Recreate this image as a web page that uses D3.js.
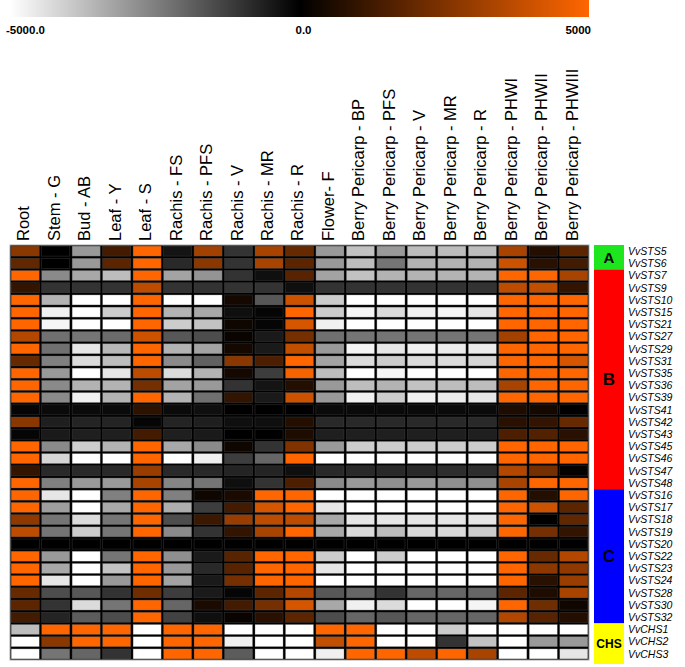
<!DOCTYPE html>
<html><head><meta charset="utf-8">
<script src="https://cdn.jsdelivr.net/npm/d3@7"></script>
<style>body{margin:0;background:#fff}</style>
</head><body><svg id="chart" width="685" height="667"></svg>
<script>
const tissues = ["Root","Stem - G","Bud - AB","Leaf - Y","Leaf - S","Rachis - FS","Rachis - PFS","Rachis - V","Rachis - MR","Rachis - R","Flower- F","Berry Pericarp - BP","Berry Pericarp - PFS","Berry Pericarp - V","Berry Pericarp - MR","Berry Pericarp - R","Berry Pericarp - PHWI","Berry Pericarp - PHWII","Berry Pericarp - PHWIII"];
const genes = ["VvSTS5","VvSTS6","VvSTS7","VvSTS9","VvSTS10","VvSTS15","VvSTS21","VvSTS27","VvSTS29","VvSTS31","VvSTS35","VvSTS36","VvSTS39","VvSTS41","VvSTS42","VvSTS43","VvSTS45","VvSTS46","VvSTS47","VvSTS48","VvSTS16","VvSTS17","VvSTS18","VvSTS19","VvSTS20","VvSTS22","VvSTS23","VvSTS24","VvSTS28","VvSTS30","VvSTS32","VvCHS1","VvCHS2","VvCHS3"];
const groupNames = ["A","B","C","CHS"];
const groupSizes = [2,18,11,3];
const legendTicks = [-5000,0,5000];
const legendTickLabels = ["-5000.0","0.0","5000"];
const values = [
[2700,0,-3000,1300,5000,-400,3200,-1000,3300,2000,-3000,-3800,-3000,-3700,-3700,-3700,3300,700,1800],
[1900,0,-3000,1800,5000,-800,2700,-1000,3300,1800,-3000,-3700,-2300,-3500,-3500,-3500,4000,800,1300],
[5000,-2700,-3300,-3700,5000,-3200,-2900,-1000,-300,1700,-3200,-3800,-3500,-3500,-3500,-3500,5000,5000,3300],
[1000,-1000,-1000,-1000,3700,-1000,-1000,-1000,-1000,-300,-1000,-1000,-1000,-1000,-1000,-1000,3700,3800,1000],
[5000,-3500,-5000,-5000,5000,-5000,-5000,400,-1700,4000,-4000,-5000,-5000,-5000,-5000,-5000,5000,5000,5000],
[5000,-4700,-5000,-4000,5000,-3500,-3300,-300,-100,5000,-4000,-4800,-4300,-4700,-4800,-4500,5000,5000,5000],
[5000,-4800,-5000,-5000,5000,-4000,-3800,300,-100,4200,-4700,-5000,-5000,-5000,-5000,-5000,5000,5000,5000],
[3500,-2200,-2300,-2100,4000,-1700,-1500,200,-500,2300,-2200,-2300,-2300,-2300,-2300,-2300,3200,5000,5000],
[5000,-2200,-4500,-3600,5000,-3500,-3200,400,-500,3800,-3000,-4800,-4500,-4700,-4600,-4600,5000,5000,5000],
[2000,-2500,-4300,-3700,5000,-2700,-1900,2700,1500,5000,-3200,-4300,-4000,-4300,-4300,-4200,5000,5000,4200],
[5000,-3000,-5000,-4500,3700,-4300,-3500,400,-1200,4800,-3700,-5000,-4800,-5000,-5000,-5000,5000,5000,5000],
[5000,-2700,-3500,-3500,2300,-3200,-3000,-1000,-400,700,-3000,-3700,-3500,-3800,-3700,-3700,3300,5000,5000],
[5000,-2700,-4700,-3500,5000,-3500,-2200,1000,-500,4000,-3000,-4700,-4000,-4700,-4600,-4500,5000,5000,5000],
[-100,-200,-200,-200,900,-200,-300,0,0,0,-200,-200,-200,-200,-200,-200,600,400,0],
[2700,-600,-700,-700,-100,-700,-600,-300,-300,700,-800,-800,-800,-800,-800,-800,800,1000,2000],
[-100,-500,-600,-600,1300,-600,-500,0,0,600,-600,-600,-600,-600,-600,-600,1500,1600,800],
[5000,-2700,-4000,-3500,5000,-3300,-2700,300,-1000,2500,-3000,-4000,-4000,-4000,-4000,-4000,5000,5000,5000],
[5000,-4200,-5000,-5000,5000,-5000,-4700,-1200,-2000,5000,-5000,-5000,-5000,-5000,-5000,-5000,5000,5000,5000],
[1000,-800,-800,-800,3000,-800,-800,-700,-700,-300,-800,-800,-800,-800,-900,-900,3500,2300,100],
[5000,-2500,-3000,-3000,3300,-2600,-2300,-300,-1000,1500,-2700,-3000,-2800,-3000,-2800,-2800,3300,5000,5000],
[5000,-4500,-5000,-2500,5000,-2500,300,500,5000,5000,-5000,-5000,-5000,-5000,-5000,-5000,5000,700,5000],
[5000,-3100,-5000,-3300,5000,-3400,-1200,1300,4200,5000,-4500,-5000,-5000,-5000,-5000,-5000,5000,4000,1800],
[2800,-2300,-4300,-2300,5000,-1500,1200,3000,3700,3700,-3300,-4500,-4500,-4500,-4500,-4500,5000,0,1900],
[3700,-2300,-4000,-2300,5000,-2700,-1000,1000,3300,5000,-3300,-4300,-3700,-4300,-4300,-4000,5000,2300,1000],
[0,0,0,0,0,0,0,0,0,0,0,0,0,0,0,0,0,0,0],
[5000,-3000,-5000,-2300,5000,-2800,-500,1700,5000,5000,-4000,-5000,-4000,-5000,-5000,-5000,5000,2000,3500],
[5000,-3300,-5000,-3800,5000,-3000,-800,1700,5000,5000,-4500,-5000,-5000,-5000,-5000,-5000,5000,2700,2800],
[5000,-4500,-5000,-3000,5000,-3200,-500,2300,5000,5000,-5000,-5000,-5000,-5000,-5000,-5000,5000,800,3000],
[2000,-1500,-1700,-1000,2200,-1200,-500,-100,1800,3500,-1700,-2000,-1000,-2000,-2000,-2000,1800,600,3300],
[1800,-1000,-4300,-2300,5000,-2000,500,1300,2300,4200,-3300,-4700,-4300,-5000,-5000,-4800,5000,2200,300],
[1300,-700,-1800,-1500,5000,-1300,-300,200,800,1800,-1500,-2000,-1700,-2000,-2000,-2000,3500,1700,700],
[-3700,5000,5000,5000,-5000,5000,5000,-5000,-5000,-5000,5000,5000,-5000,-5000,-4000,-5000,-5000,-5000,-5000],
[-5000,2700,5000,5000,-5000,5000,5000,-4700,-5000,-5000,3800,5000,-5000,-5000,-1000,-3800,-5000,-3000,-3000],
[-5000,-2300,-2000,-1000,-5000,5000,5000,-1800,-5000,-5000,-4700,5000,5000,3700,5000,3300,-5000,-5000,-4500]
];

const svg = d3.select("#chart");
const font = "Arial, 'Liberation Sans', Helvetica, sans-serif";
const x = d3.scaleBand().domain(tissues).range([10, 589]);
const y = d3.scaleBand().domain(genes).range([245, 660]);
const color = d3.scaleLinear().domain([-5000, 0, 5000])
  .range(["#ffffff", "#000000", "#ff6600"]).clamp(true);

// Legend
const lx = d3.scaleLinear().domain([-5000, 5000]).range([10, 589]);
const grad = svg.append("defs").append("linearGradient").attr("id", "lg");
legendTicks.forEach(v => {
  grad.append("stop").attr("offset", (lx(v) - 10) / 579).attr("stop-color", color(v));
});
svg.append("rect").attr("x", lx(-5000)).attr("y", 0)
  .attr("width", lx(5000) - lx(-5000)).attr("height", 17).attr("fill", "url(#lg)");
svg.selectAll(".ltick").data(legendTicks).join("text")
  .attr("x", (d, i) => i === 0 ? lx(d) - 4 : i === 2 ? lx(d) + 2 : lx(d) + 4)
  .attr("y", 34)
  .attr("text-anchor", (d, i) => i === 0 ? "start" : i === 2 ? "end" : "middle")
  .attr("font-family", font).attr("font-size", 11.5).attr("font-weight", "bold")
  .attr("fill", "#000")
  .text((d, i) => legendTickLabels[i]);

// Column labels
svg.selectAll(".col").data(tissues).join("text")
  .attr("transform", d => `translate(${x(d) + x.bandwidth() / 2 - 2},241) rotate(-90)`)
  .attr("dy", "0.36em")
  .attr("font-family", font).attr("font-size", 16.5).attr("fill", "#000")
  .text(d => d);

// Heatmap
svg.append("rect").attr("x", 10).attr("y", 245).attr("width", 579).attr("height", 415)
  .attr("fill", "#000").attr("stroke", "#aaa").attr("stroke-width", 1);
const cells = [];
genes.forEach((g, i) => tissues.forEach((t, j) => cells.push({ g, t, v: values[i][j] })));
svg.append("g").selectAll("rect").data(cells).join("rect")
  .attr("x", d => x(d.t) + 1.2).attr("y", d => y(d.g) + 1.1)
  .attr("width", x.bandwidth() - 2.4).attr("height", y.bandwidth() - 2.2)
  .attr("fill", d => color(d.v))
  .attr("stroke", "rgba(90,90,90,0.5)").attr("stroke-width", 0.6);

// Group bar
const groupColors = ["#1ee61e", "#ff0000", "#0000ff", "#ffff00"];
let cum = 0;
groupNames.forEach((name, k) => {
  const n = groupSizes[k];
  const y0 = y(genes[cum]);
  let y1 = y(genes[cum + n - 1]) + y.bandwidth();
  if (k === groupNames.length - 1) y1 += 4;
  svg.append("rect").attr("x", 594).attr("y", y0).attr("width", 30).attr("height", y1 - y0)
    .attr("fill", groupColors[k]);
  svg.append("text").attr("x", 609).attr("y", (y0 + y1) / 2).attr("dy", "0.36em")
    .attr("text-anchor", "middle").attr("font-family", font).attr("font-weight", "bold")
    .attr("font-size", name === "CHS" ? 12 : (name === "A" ? 15 : 17)).attr("fill", "#000")
    .text(name);
  cum += n;
});

// Row labels
svg.selectAll(".row").data(genes).join("text")
  .attr("x", 628).attr("y", d => y(d) + y.bandwidth() / 2).attr("dy", "0.36em")
  .attr("font-family", font).attr("font-size", 10.5).attr("font-style", "italic").attr("fill", "#000")
  .text(d => d);
</script></body></html>
